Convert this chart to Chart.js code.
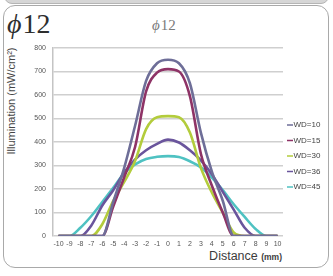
<!DOCTYPE html>
<html>
<head>
<meta charset="utf-8">
<script src="https://cdn.jsdelivr.net/npm/chart.js@4.4.1/dist/chart.umd.min.js"></script>
<style>
    html, body { margin: 0; padding: 0; background: #fff; }
    #wrap { position: relative; width: 333px; height: 276px; overflow: hidden; }
    #topStrip {
        position: absolute; left: 4px; top: -12px; width: 323px; height: 14px;
        background: #d6d6d6; border: 1px solid #b5b5b5; border-radius: 10px;
    }
    #frame {
        position: absolute; left: 3px; top: 5px; width: 324px; height: 261px;
        border: 1px solid #a9a9a9; border-radius: 12px;
    }
    #bigTitle {
        position: absolute; left: 7px; top: 8px;
        font-family: 'Liberation Serif', 'DejaVu Serif', serif; font-size: 28px; color: #2e2e2e;
    }
    #subTitle {
        position: absolute; left: 152px; top: 17px;
        font-family: 'Liberation Serif', 'DejaVu Serif', serif; font-size: 15px; color: #7a7a7a;
    }
    .phi { font-style: italic; margin-right: 1px; }
    #yTitle {
        position: absolute; left: 11px; top: 101px; transform: translate(-50%, -50%) rotate(-90deg);
        white-space: nowrap;
        font-family: 'Liberation Sans Narrow', 'Liberation Sans', sans-serif; font-size: 11px; color: #444;
    }
    #xTitle {
        position: absolute; right: 51px; top: 249px; white-space: nowrap;
        font-family: 'Liberation Sans Narrow', 'Liberation Sans', sans-serif; font-size: 12.5px; color: #3c3c3c;
    }
    #xTitle small { font-size: 8.5px; font-weight: bold; }
    canvas { position: absolute; left: 0; top: 0; }
</style>
</head>
<body>
<div id="wrap">
    <div id="topStrip"></div>
    <div id="frame"></div>
    <div id="bigTitle"><span class="phi">ϕ</span>12</div>
    <div id="subTitle"><span class="phi">ϕ</span>12</div>
    <div id="yTitle">Illumination (mW/cm²)</div>
    <div id="xTitle">Distance <small>(mm)</small></div>
    <canvas id="chart" width="333" height="276"></canvas>
</div>
<script>
// Distance (mm) categories
const distances = ['-10','-9','-8','-7','-6','-5','-4','-3','-2','-1','0','1','2','3','4','5','6','7','8','9','10'];

// Illumination (mW/cm²) per working distance
const wd10 = [0, 0, 0, 0, 0, 145, 290, 470, 660, 735, 750, 735, 650, 440, 275, 150, 0, 0, 0, 0, 0];
const wd15 = [0, 0, 0, 0, 0, 125, 250, 380, 615, 695, 710, 700, 595, 350, 215, 100, 0, 0, 0, 0, 0];
const wd30 = [0, 0, 0, 0, 50, 150, 230, 320, 455, 505, 510, 505, 440, 290, 185, 100, 15, 0, 0, 0, 0];
const wd36 = [0, 0, 0, 45, 130, 195, 270, 326, 365, 392, 410, 398, 365, 322, 263, 188, 112, 35, 0, 0, 0];
const wd45 = [0, 0, 35, 85, 145, 205, 268, 305, 328, 337, 340, 336, 318, 292, 249, 195, 135, 81, 30, 0, 0];

const seriesLabels = ['WD=10', 'WD=15', 'WD=30', 'WD=36', 'WD=45'];
const seriesColors = ['#6e6e98', '#8e3366', '#b3cc3c', '#6a559c', '#4fc2c2'];
const yTicks = [0, 100, 200, 300, 400, 500, 600, 700, 800];

const tickFont = { family: "'Liberation Sans Narrow', 'Liberation Sans', sans-serif", size: 7 };

// simple right-hand legend drawn on the canvas
const sideLegend = {
    id: 'sideLegend',
    afterDraw(chart) {
        const ctx = chart.ctx;
        ctx.save();
        ctx.font = "8px 'Liberation Sans Narrow', 'Liberation Sans', sans-serif";
        ctx.textBaseline = 'middle';
        chart.data.datasets.forEach((ds, i) => {
            const y = 125 + i * 15.5;
            ctx.strokeStyle = ds.borderColor;
            ctx.lineWidth = 1.5;
            ctx.beginPath();
            ctx.moveTo(287, y);
            ctx.lineTo(293, y);
            ctx.stroke();
            ctx.fillStyle = '#444';
            ctx.fillText(ds.label, 293.5, y);
        });
        ctx.restore();
    }
};

const datasets = [wd10, wd15, wd30, wd36, wd45].map((vals, i) => ({
    label: seriesLabels[i],
    data: vals,
    borderColor: seriesColors[i],
    backgroundColor: seriesColors[i],
    borderWidth: 2.6,
    pointRadius: 0,
    cubicInterpolationMode: 'monotone',
    fill: false
}));

new Chart(document.getElementById('chart'), {
    type: 'line',
    data: { labels: distances, datasets: datasets },
    options: {
        responsive: false,
        animation: false,
        layout: { padding: { left: 0, right: 50, top: 48, bottom: 0 } },
        plugins: {
            legend: { display: false },
            tooltip: { enabled: false }
        },
        scales: {
            x: {
                offset: true,
                grid: { display: false, drawTicks: false },
                border: { display: false },
                ticks: { color: '#555', font: tickFont, padding: 4, autoSkip: false, maxRotation: 0 },
                afterFit(scale) { scale.height = 40; }
            },
            y: {
                min: 0,
                max: 800,
                afterBuildTicks(scale) { scale.ticks = yTicks.map(v => ({ value: v })); },
                grid: { color: '#cfcfcf', lineWidth: 1.5, drawTicks: false },
                border: { display: true, color: '#c4c4c4', width: 1.5 },
                ticks: { color: '#555', font: tickFont, padding: 7 },
                afterFit(scale) { scale.width = 53; }
            }
        }
    },
    plugins: [sideLegend]
});
</script>
</body>
</html>
